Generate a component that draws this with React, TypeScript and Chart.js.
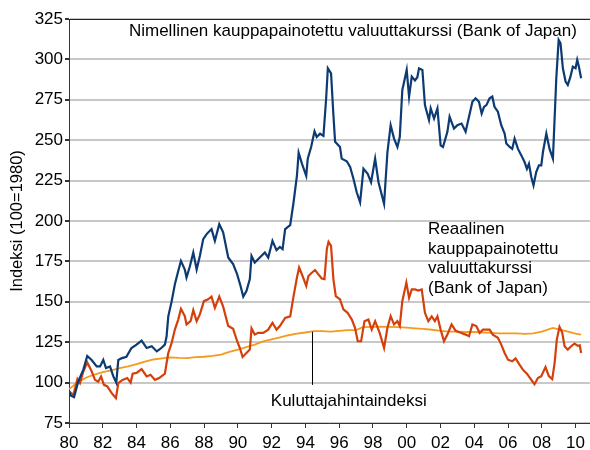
import React, { useEffect, useRef } from "react";
import { Chart, registerables } from "chart.js";

Chart.register(...registerables);

// Nimellinen kauppapainotettu valuuttakurssi (nominal)
const nominalYears = [
  1980.0, 1980.1, 1980.3, 1980.55, 1980.85, 1981.08, 1981.34, 1981.64, 1981.84, 1982.03,
  1982.19, 1982.43, 1982.62, 1982.8, 1982.92, 1983.1, 1983.4, 1983.7, 1984.0, 1984.3,
  1984.6, 1984.9, 1985.2, 1985.4, 1985.68, 1985.78, 1985.88, 1986.08, 1986.27, 1986.47,
  1986.63, 1986.86, 1986.96, 1987.16, 1987.36, 1987.56, 1987.75, 1987.95, 1988.15, 1988.44,
  1988.64, 1988.9, 1989.13, 1989.43, 1989.72, 1989.96, 1990.16, 1990.32, 1990.51, 1990.71,
  1990.81, 1991.0, 1991.3, 1991.6, 1991.8, 1992.05, 1992.29, 1992.49, 1992.65, 1992.8,
  1993.1, 1993.3, 1993.5, 1993.6, 1993.8, 1994.05, 1994.14, 1994.34, 1994.54, 1994.67,
  1994.87, 1995.07, 1995.23, 1995.33, 1995.52, 1995.66, 1995.76, 1996.05, 1996.15, 1996.45,
  1996.65, 1996.85, 1997.04, 1997.24, 1997.44, 1997.69, 1997.89, 1998.13, 1998.33, 1998.66,
  1998.86, 1999.05, 1999.25, 1999.45, 1999.59, 1999.74, 2000.0, 2000.14, 2000.3, 2000.49,
  2000.63, 2000.73, 2000.93, 2001.08, 2001.32, 2001.42, 2001.62, 2001.82, 2002.01, 2002.15,
  2002.41, 2002.54, 2002.8, 2003.0, 2003.25, 2003.49, 2003.69, 2003.89, 2004.08, 2004.28,
  2004.44, 2004.58, 2004.72, 2004.91, 2005.07, 2005.2, 2005.4, 2005.6, 2005.8, 2005.9,
  2006.1, 2006.25, 2006.39, 2006.59, 2006.79, 2006.98, 2007.12, 2007.24, 2007.38, 2007.51,
  2007.67, 2007.83, 2007.97, 2008.07, 2008.27, 2008.46, 2008.66, 2008.76, 2008.86, 2009.0,
  2009.11, 2009.25, 2009.41, 2009.54, 2009.69, 2009.84, 2010.0, 2010.1, 2010.2, 2010.33,
];
const nominalValues = [
  95, 92, 91, 100.7, 108, 116.5, 114, 110, 110, 114,
  109, 110, 104, 100, 114, 115, 116, 121.4, 123.5, 126,
  121.4, 122.5, 119.3, 120.8, 123.5, 128.7, 141, 150.4, 160.8, 169,
  175.3, 170, 165, 172, 180.5, 170, 178.4, 188.8, 191.9, 195,
  187.7, 198, 193, 177.4, 173.3, 167, 159.8, 153.2, 156.7, 164,
  178.4, 174.3, 177.4, 180.5, 177.4, 187.7, 182, 184, 182.6, 195,
  197.5, 211.6, 228, 242.3, 235.4, 228, 238.6, 245.8, 255.5, 252,
  254, 252.7, 275.9, 294.5, 291.4, 265.5, 249, 245.8, 238.6, 237,
  233.4, 226, 217.8, 211.6, 232.3, 229.2, 224, 238.6, 224, 210.6,
  242.7, 259.3, 251, 245.8, 252, 281, 293.5, 276.9, 289.4, 287,
  289, 294.5, 293.5, 271.7, 262.4, 269.7, 263.4, 269.7, 246.8, 245.8,
  255.2, 264.5, 257.2, 259.3, 260.3, 255.2, 264.5, 273.8, 275.9, 273.8,
  266.5, 270.6, 271.7, 275.9, 277, 270.7, 267.6, 259.3, 254.1, 247.9,
  245.8, 244.6, 251, 244.6, 240.6, 236.5, 232.3, 235.4, 227.2, 222,
  230.3, 234.4, 234.4, 242.7, 254.1, 244.6, 238.6, 263.4, 288.3, 312.1,
  310, 294.5, 286.3, 284.2, 289, 295.5, 294.5, 299.7, 295.5, 288.3,
];

// Reaalinen kauppapainotettu valuuttakurssi (real)
const realYears = [
  1980.0, 1980.26, 1980.5, 1980.65, 1980.85, 1981.08, 1981.34, 1981.54, 1981.73, 1981.9,
  1982.07, 1982.27, 1982.53, 1982.78, 1982.92, 1983.17, 1983.45, 1983.65, 1983.77, 1984.0,
  1984.3, 1984.6, 1984.83, 1985.09, 1985.34, 1985.68, 1985.78, 1985.88, 1986.08, 1986.27,
  1986.47, 1986.63, 1986.86, 1986.96, 1987.2, 1987.36, 1987.56, 1987.75, 1987.99, 1988.24,
  1988.44, 1988.64, 1988.9, 1989.13, 1989.43, 1989.72, 1989.96, 1990.12, 1990.28, 1990.51,
  1990.71, 1990.81, 1991.0, 1991.2, 1991.5, 1991.8, 1992.05, 1992.29, 1992.49, 1992.8,
  1993.1, 1993.3, 1993.5, 1993.63, 1993.83, 1994.05, 1994.18, 1994.38, 1994.57, 1994.77,
  1994.97, 1995.13, 1995.27, 1995.37, 1995.52, 1995.66, 1995.8, 1996.05, 1996.25, 1996.5,
  1996.75, 1996.94, 1997.1, 1997.3, 1997.5, 1997.73, 1997.93, 1998.13, 1998.4, 1998.66,
  1998.86, 1999.05, 1999.25, 1999.45, 1999.59, 1999.74, 1999.98, 2000.14, 2000.3, 2000.49,
  2000.69, 2000.89, 2001.08, 2001.28, 2001.48, 2001.67, 2001.82, 2002.01, 2002.21, 2002.41,
  2002.66, 2002.9, 2003.2, 2003.49, 2003.69, 2003.89, 2004.12, 2004.32, 2004.52, 2004.91,
  2005.1, 2005.4, 2005.6, 2005.8, 2006.0, 2006.25, 2006.45, 2006.69, 2006.88, 2007.12,
  2007.38, 2007.57, 2007.77, 2007.97, 2008.22, 2008.42, 2008.62, 2008.76, 2008.89, 2009.05,
  2009.21, 2009.35, 2009.54, 2009.74, 2009.94, 2010.14, 2010.25, 2010.33,
];
const realValues = [
  94.5, 92.4, 102.2, 99.7, 106.9, 112.5, 107, 101.7, 100.5, 103.8,
  98.6, 97.6, 93.5, 90.4, 99.7, 101.7, 102.8, 100, 105.5, 106,
  108.4, 103.8, 104.8, 101.7, 102.8, 105.5, 112.1, 118.3, 124.6, 132.8,
  139, 145.7, 141.1, 136, 138, 144.8, 138, 142.2, 150.4, 151.5,
  153.2, 146.3, 153.2, 147, 135, 133.3, 125.6, 121.4, 115.9, 118.3,
  120.4, 133.5, 129.7, 130.8, 130.8, 132.8, 137, 132.8, 135, 140,
  141, 153.5, 165, 171.2, 166, 159.8, 166, 168, 169.7, 167,
  164.4, 164, 182.6, 187.1, 184.6, 163.9, 153.5, 151.5, 145.3, 143.2,
  139, 133.9, 125.6, 125.6, 138, 139, 132.8, 138, 130.8, 121.4,
  133.9, 141.1, 136, 138, 135, 150.4, 161.9, 152.5, 157.7, 157.7,
  157, 157.7, 143.2, 138, 141, 138, 141, 132.8, 125.6, 129.7,
  136, 132, 130.8, 129.7, 128.7, 136, 135, 130.8, 132.8, 132.8,
  129.7, 127.7, 123.5, 118.3, 114.2, 113.2, 115, 111, 108, 105.5,
  101.7, 99, 102.8, 104, 109.6, 104, 102.2, 112.1, 126.6, 134.5,
  131, 122.5, 120.4, 122.5, 124.1, 122.7, 123, 118.3,
];

// Kuluttajahintaindeksi (CPI)
const cpiYears = [
  1980.0, 1980.5, 1981.0, 1981.5, 1982.0, 1982.5, 1983.0, 1983.5, 1984.0, 1984.5,
  1985.0, 1985.5, 1986.0, 1986.5, 1987.0, 1987.5, 1988.0, 1988.5, 1989.0, 1989.5,
  1990.0, 1990.5, 1991.0, 1991.5, 1992.0, 1992.5, 1993.0, 1993.5, 1994.0, 1994.5,
  1995.0, 1995.5, 1996.0, 1996.5, 1997.0, 1997.4, 1998.0, 1998.5, 1999.0, 1999.5,
  2000.0, 2000.5, 2001.0, 2001.5, 2002.0, 2002.5, 2003.0, 2003.5, 2004.0, 2004.5,
  2005.0, 2005.5, 2006.0, 2006.5, 2007.0, 2007.5, 2008.0, 2008.66, 2009.0, 2009.45,
  2010.0, 2010.33,
];
const cpiValues = [
  96, 100, 103, 105, 106.5, 107.5, 109, 110, 111.5, 113,
  114.3, 115, 115.6, 115.3, 115.2, 115.8, 116, 116.5, 117.3, 119,
  120.4, 122, 123.5, 125.5, 126.8, 128, 129.3, 130.3, 131, 131.8,
  131.8, 131.5, 132, 132.5, 132.5, 134.3, 134.5, 134.6, 134.5, 134.3,
  134, 133.6, 133.2, 132.7, 132, 131.6, 131.5, 131.3, 131.3, 131,
  130.8, 130.4, 130.5, 130.5, 130.2, 130.5, 131.5, 133.9, 133, 131.8,
  130.3, 129.7,
];

const yTicks = [75, 100, 125, 150, 175, 200, 225, 250, 275, 300, 325];
const xTickYears = [1980, 1982, 1984, 1986, 1988, 1990, 1992, 1994, 1996, 1998, 2000, 2002, 2004, 2006, 2008, 2010];

const nominalLabel = "Nimellinen kauppapainotettu valuuttakurssi (Bank of Japan)";
const realLabelLines = ["Reaalinen", "kauppapainotettu", "valuuttakurssi", "(Bank of Japan)"];
const cpiLabel = "Kuluttajahintaindeksi";
const yTitle = "Indeksi (100=1980)";

const FONT = "'Liberation Sans', Arial, sans-serif";
const FS = 17;

const toPoints = (xs: number[], ys: number[]) => xs.map((x, i) => ({ x, y: ys[i] }));

const annotationPlugin = {
  id: "annotations",
  afterDraw(chart: any) {
    const { ctx, chartArea, scales } = chart;
    const xs = scales.x;
    const ys = scales.y;
    ctx.save();
    // top border
    ctx.strokeStyle = "#222";
    ctx.lineWidth = 1;
    ctx.beginPath();
    ctx.moveTo(chartArea.left, Math.round(chartArea.top) + 0.5);
    ctx.lineTo(chartArea.right, Math.round(chartArea.top) + 0.5);
    ctx.stroke();

    ctx.fillStyle = "#000";
    ctx.font = `${FS}px ${FONT}`;
    ctx.textBaseline = "middle";
    ctx.textAlign = "left";
    ctx.fillText(nominalLabel, xs.getPixelForValue(1983.55), ys.getPixelForValue(317.5));

    const realX = xs.getPixelForValue(2001.26);
    const realY = [195, 182.2, 170.6, 158.3];
    realLabelLines.forEach((line, i) => {
      ctx.fillText(line, realX, ys.getPixelForValue(realY[i]));
    });

    ctx.textAlign = "center";
    ctx.fillText(cpiLabel, xs.getPixelForValue(1996.57), ys.getPixelForValue(88.5));

    // pointer line
    const lx = Math.round(xs.getPixelForValue(1994.4)) + 0.5;
    ctx.strokeStyle = "#000";
    ctx.lineWidth = 1;
    ctx.beginPath();
    ctx.moveTo(lx, ys.getPixelForValue(131.5));
    ctx.lineTo(lx, ys.getPixelForValue(98.6));
    ctx.stroke();
    ctx.restore();
  },
};

export default function App() {
  const canvasRef = useRef<HTMLCanvasElement | null>(null);

  useEffect(() => {
    document.body.style.margin = "0";
    const canvas = canvasRef.current;
    if (!canvas) return;
    const chart = new Chart(canvas, {
      type: "line",
      data: {
        datasets: [
          {
            label: "Nimellinen",
            data: toPoints(nominalYears, nominalValues),
            borderColor: "#0c3a72",
            borderWidth: 2.2,
            pointRadius: 0,
            tension: 0,
            order: 0,
          },
          {
            label: "Reaalinen",
            data: toPoints(realYears, realValues),
            borderColor: "#d4400c",
            borderWidth: 2.2,
            pointRadius: 0,
            tension: 0,
            order: 1,
          },
          {
            label: "Kuluttajahintaindeksi",
            data: toPoints(cpiYears, cpiValues),
            borderColor: "#f59a1b",
            borderWidth: 1.8,
            pointRadius: 0,
            tension: 0,
            order: 2,
          },
        ],
      },
      options: {
        animation: false,
        responsive: false,
        maintainAspectRatio: false,
        layout: { padding: { top: 19, right: 0, left: 0, bottom: 0 } },
        plugins: { legend: { display: false }, tooltip: { enabled: false } },
        scales: {
          x: {
            type: "linear",
            min: 1980,
            max: 2010.85,
            afterFit: (s: any) => {
              s.height = 27;
            },
            afterBuildTicks: (s: any) => {
              s.ticks = xTickYears.map((v) => ({ value: v }));
            },
            ticks: {
              autoSkip: false,
              maxRotation: 0,
              padding: 5,
              color: "#000",
              font: { family: FONT, size: FS },
              callback: (v: any) => String(Number(v) % 100).padStart(2, "0"),
            },
            grid: {
              drawOnChartArea: false,
              drawTicks: true,
              tickLength: 5,
              tickColor: "#333",
            },
            border: { color: "#333", width: 1 },
          },
          y: {
            min: 75,
            max: 325,
            afterFit: (s: any) => {
              s.width = 69;
            },
            afterBuildTicks: (s: any) => {
              s.ticks = yTicks.map((v) => ({ value: v }));
            },
            ticks: {
              padding: 2,
              color: "#000",
              font: { family: FONT, size: FS },
            },
            grid: {
              color: "#c8c8c8",
              lineWidth: 2,
              drawTicks: true,
              tickLength: 4,
              tickColor: "#333",
            },
            border: { color: "#333", width: 1 },
            title: {
              display: true,
              text: yTitle,
              color: "#000",
              font: { family: FONT, size: 16.5 },
              padding: { top: 8, bottom: 0 },
            },
          },
        },
      },
      plugins: [annotationPlugin],
    });
    return () => chart.destroy();
  }, []);

  return (
    <div style={{ position: "absolute", left: 0, top: 0, width: 590, height: 450 }}>
      <canvas ref={canvasRef} width={590} height={450} />
    </div>
  );
}
